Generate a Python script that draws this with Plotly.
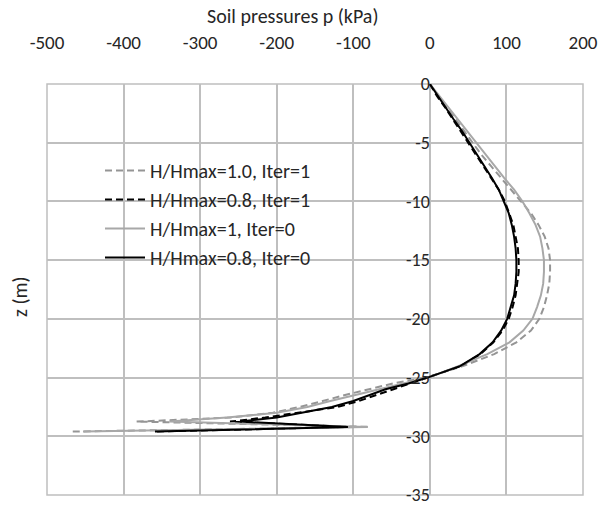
import plotly.graph_objects as go

# Depth values (m)
z = [0, -1, -2, -3, -4, -5, -6, -7, -8, -9, -10, -11, -12, -13, -14, -15, -16, -17,
     -18, -19, -20, -21, -22, -23, -24, -25,
     -25.5, -26, -26.5, -27, -27.5, -28, -28.4, -28.75, -29.2, -29.6]

# Soil pressures (kPa)
p_h10_it1 = [0, 11, 22, 33, 44, 55, 67, 80, 93, 107, 120, 132, 142, 150, 155, 157, 157, 156,
             153, 149, 143, 132, 113, 84, 44, -5,
             -48, -82, -112, -140, -170, -205, -260, -383, -80, -468]
p_h08_it1 = [0, 9, 20, 30, 40, 50, 60, 71, 81, 90, 98, 104, 109, 112, 115, 116, 116, 114,
             112, 108, 103, 95, 83, 66, 41, -3,
             -26, -50, -72, -93, -120, -170, -215, -261, -107, -359]
p_h10_it0 = [0, 12, 24, 36, 49, 61, 73, 85, 97, 110, 121, 130, 138, 144, 147, 149, 149, 148,
             145, 140, 134, 122, 104, 75, 38, -2,
             -35, -68, -100, -130, -160, -200, -265, -340, -81, -453]
p_h08_it0 = [0, 10, 21, 31, 42, 52, 62, 72, 81, 90, 97, 103, 107, 110, 112, 113, 113, 112,
             110, 106, 101, 93, 82, 65, 40, -3,
             -28, -58, -80, -100, -128, -168, -200, -248, -107, -359]

names = ["H/Hmax=1.0, Iter=1", "H/Hmax=0.8, Iter=1", "H/Hmax=1, Iter=0", "H/Hmax=0.8, Iter=0"]
series = [p_h10_it1, p_h08_it1, p_h10_it0, p_h08_it0]
colors = ["#959595", "#000000", "#A8A8A8", "#000000"]
dashes = ["7px,4px", "7px,4px", "solid", "solid"]

x_ticks = [-500, -400, -300, -200, -100, 0, 100, 200]
x_text = ["-500", "-400", "-300", "-200", "-100", "0", "100", "200"]
y_ticks = [0, -5, -10, -15, -20, -25, -30, -35]
y_text = ["0", "-5", "-10", "-15", "-20", "-25", "-30", "-35"]

FONT = "Calibri, Carlito, Lato, sans-serif"
TXT = "#262626"
FS = 20
GRID = "#BFBFBF"

fig = go.Figure()
for i, (nm, pv, c, d) in enumerate(zip(names, series, colors, dashes)):
    fig.add_trace(go.Scatter(
        x=pv, y=z, mode="lines", name=nm, legendgroup=f"g{i}",
        line=dict(color=c, width=2, dash=d),
    ))

L, R, T, B = 47, 16, 84, 11
W, H = 599, 506
pw, ph = W - L - R, H - T - B

fig.update_layout(
    width=W, height=H,
    margin=dict(l=L, r=R, t=T, b=B, autoexpand=False),
    paper_bgcolor="white", plot_bgcolor="white",
    font=dict(family=FONT, size=FS, color=TXT),
    showlegend=True,
    legend=dict(x=(100 - L) / pw, y=1 - (151 - T) / ph, xanchor="left", yanchor="top",
                bgcolor="rgba(0,0,0,0)", borderwidth=0,
                font=dict(family=FONT, size=FS, color=TXT),
                tracegroupgap=0, itemwidth=40),
    xaxis=dict(range=[-500, 200], tickvals=x_ticks, ticktext=x_text, side="top",
               showgrid=True, gridcolor=GRID, gridwidth=1.5, automargin=False,
               zeroline=False, showline=False, ticks="outside", ticklen=26,
               tickcolor="rgba(0,0,0,0)", tickfont=dict(size=19),
               ticklabeloverflow="allow"),
    yaxis=dict(range=[-35, 0], tickvals=y_ticks, ticktext=y_text, anchor="free",
               position=500 / 700, showgrid=True, gridcolor=GRID,
               gridwidth=1.5, zeroline=False, showline=False, ticks="",
               automargin=False, tickfont=dict(size=18), ticklabeloverflow="allow"),
    shapes=[dict(type="rect", xref="paper", yref="paper", x0=0, x1=1, y0=0, y1=1,
                 line=dict(color=GRID, width=1.5), layer="below")],
    annotations=[
        dict(text="z (m)", x=(20 - L) / pw, y=1 - (297 - T) / ph,
             xref="paper", yref="paper", xanchor="center", yanchor="middle",
             showarrow=False, textangle=-90,
             font=dict(family=FONT, size=FS, color=TXT)),
        dict(text="Soil pressures p (kPa)", x=(293 - L) / pw, y=1 - (16 - T) / ph,
             xref="paper", yref="paper", xanchor="center", yanchor="middle",
             showarrow=False, font=dict(family=FONT, size=FS, color=TXT)),
    ],
)

fig.write_html("out.html")
